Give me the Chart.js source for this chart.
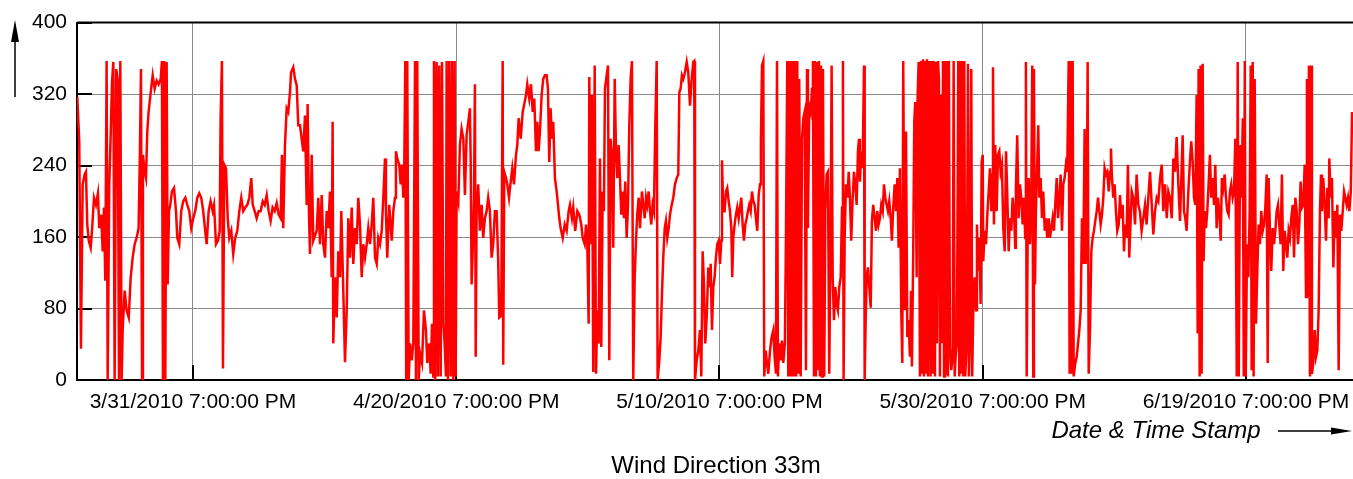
<!DOCTYPE html>
<html>
<head>
<meta charset="utf-8">
<title>Wind Direction 33m</title>
<script src="https://cdn.jsdelivr.net/npm/chart.js@4.4.1/dist/chart.umd.min.js"></script>
<style>
  html, body { margin: 0; padding: 0; background: #ffffff; }
  #wrap { width: 1353px; height: 479px; position: relative; }
</style>
</head>
<body>
<div id="wrap"><canvas id="windChart" width="1353" height="479"></canvas></div>
<script>
// ================= DATA =================
// time stamps in days since 3/31/2010 7:00 PM, wind direction in degrees
const days = [
  -8.79,-8.64,-8.51,-8.38,-8.23,-8.13,-8.03,-7.92,-7.77,-7.67,
  -7.52,-7.37,-7.22,-7.12,-6.97,-6.86,-6.76,-6.66,-6.56,-6.48,
  -6.36,-6.25,-6.15,-6.05,-5.95,-5.83,-5.72,-5.62,-5.52,-5.42,
  -5.34,-5.19,-5.04,-4.88,-4.73,-4.58,-4.43,-4.28,-4.13,-4.03,
  -3.95,-3.87,-3.80,-3.67,-3.57,-3.47,-3.37,-3.21,-3.06,-2.91,
  -2.76,-2.61,-2.45,-2.36,-2.28,-2.18,-2.10,-2.00,-1.92,-1.82,
  -1.72,-1.60,-1.44,-1.29,-1.19,-1.04,-0.89,-0.74,-0.58,-0.43,
  -0.28,-0.13,0.02,0.17,0.33,0.48,0.63,0.78,0.93,1.04,
  1.19,1.34,1.50,1.60,1.75,1.90,2.03,2.10,2.20,2.28,
  2.38,2.51,2.64,2.76,2.91,3.06,3.21,3.37,3.52,3.67,
  3.82,3.97,4.13,4.28,4.43,4.54,4.69,4.84,4.99,5.14,
  5.30,5.45,5.60,5.75,5.90,6.05,6.21,6.36,6.51,6.66,
  6.76,6.86,6.99,7.12,7.24,7.37,7.45,7.62,7.75,7.88,
  8.00,8.13,8.38,8.51,8.64,8.71,8.81,8.89,9.02,9.14,
  9.40,9.52,9.65,9.78,9.90,10.03,10.16,10.28,10.41,10.54,
  10.61,10.66,10.79,10.92,11.04,11.17,11.27,11.42,11.55,11.68,
  11.80,11.93,12.06,12.18,12.31,12.44,12.56,12.69,12.82,12.94,
  13.07,13.20,13.32,13.45,13.58,13.70,13.83,13.96,14.08,14.21,
  14.34,14.46,14.59,14.66,14.76,14.91,15.10,15.22,15.35,15.42,
  15.52,15.67,15.78,15.88,15.98,16.05,16.13,16.20,16.28,16.39,
  16.49,16.62,16.74,16.87,16.94,17.04,17.15,17.25,17.40,17.55,
  17.70,17.80,17.95,18.06,18.16,18.26,18.31,18.41,18.51,18.61,
  18.71,18.82,18.92,19.02,19.12,19.22,19.27,19.37,19.47,19.58,
  19.68,19.78,19.88,19.96,20.03,20.16,20.28,20.41,20.54,20.66,
  20.79,20.92,21.04,21.10,21.17,21.25,21.35,21.42,21.48,21.55,
  21.67,21.80,21.93,22.05,22.18,22.31,22.43,22.56,22.69,22.81,
  22.94,23.07,23.19,23.27,23.42,23.53,23.57,23.65,23.78,23.88,
  24.01,24.14,24.26,24.39,24.54,24.64,24.74,24.90,25.05,25.20,
  25.30,25.40,25.55,25.68,25.81,25.93,26.06,26.16,26.26,26.36,
  26.49,26.61,26.74,26.87,26.97,27.07,27.17,27.27,27.37,27.50,
  27.63,27.73,27.83,27.93,28.09,28.24,28.39,28.54,28.64,28.79,
  28.89,29.04,29.20,29.35,29.50,29.61,29.76,29.86,29.96,30.06,
  30.11,30.21,30.31,30.41,30.52,30.62,30.72,30.82,30.92,31.02,
  31.13,31.22,31.30,31.43,31.53,31.63,31.73,31.83,31.93,32.04,
  32.14,32.24,32.34,32.44,32.54,32.64,32.74,32.84,32.95,33.05,
  33.15,33.25,33.35,33.45,33.56,33.66,33.75,33.86,33.96,34.11,
  34.21,34.32,34.42,34.51,34.62,34.72,34.82,34.92,35.02,35.12,
  35.23,35.30,35.43,35.53,35.63,35.73,35.84,35.93,36.03,36.14,
  36.24,36.37,36.49,36.62,36.75,36.87,36.95,37.05,37.15,37.25,
  37.36,37.51,37.63,37.76,37.89,38.01,38.08,38.14,38.27,38.39,
  38.52,38.62,38.72,38.82,38.92,39.03,39.15,39.28,39.33,39.43,
  39.53,39.63,39.73,39.83,39.94,40.04,40.14,40.19,40.29,40.39,
  40.49,40.59,40.70,40.80,40.90,40.97,41.05,41.15,41.25,41.35,
  41.46,41.56,41.66,41.76,41.86,41.96,42.07,42.16,42.26,42.37,
  42.47,42.57,42.67,42.77,42.87,42.98,43.08,43.15,43.23,43.33,
  43.40,43.51,43.61,43.71,43.84,43.96,44.09,44.19,44.29,44.37,
  44.44,44.54,44.65,44.75,44.85,44.97,45.05,45.15,45.23,45.30,
  45.38,45.45,45.53,45.61,45.68,45.76,45.83,45.91,45.99,46.06,
  46.17,46.27,46.37,46.47,46.57,46.65,46.72,46.82,46.93,47.03,
  47.10,47.18,47.25,47.33,47.41,47.48,47.56,47.63,47.71,47.79,
  47.86,47.96,48.04,48.14,48.24,48.34,48.45,48.52,48.60,48.70,
  48.80,48.90,49.00,49.10,49.21,49.31,49.38,49.43,49.51,49.61,
  49.71,49.82,49.91,50.01,50.12,50.22,50.32,50.42,50.52,50.60,
  50.67,50.77,50.88,50.98,51.03,51.11,51.18,51.28,51.38,51.49,
  51.58,51.68,51.79,51.89,51.99,52.09,52.19,52.29,52.40,52.50,
  52.60,52.70,52.80,52.90,53.01,53.10,53.20,53.31,53.41,53.51,
  53.61,53.71,53.81,53.89,53.96,54.07,54.17,54.27,54.37,54.47,
  54.55,54.62,54.72,54.80,54.87,54.98,55.03,55.13,55.23,55.31,
  55.38,55.46,55.53,55.61,55.69,55.76,55.84,55.92,55.99,56.04,
  56.14,56.22,56.29,56.37,56.45,56.52,56.60,56.67,56.75,56.83,
  56.90,56.98,57.06,57.13,57.21,57.28,57.36,57.43,57.51,57.61,
  57.72,57.79,57.87,57.94,58.04,58.14,58.22,58.29,58.37,58.44,
  58.52,58.60,58.67,58.78,58.88,58.95,59.03,59.13,59.20,59.28,
  59.39,59.49,59.56,59.64,59.74,59.84,59.92,60.00,60.04,60.15,
  60.25,60.35,60.45,60.55,60.65,60.72,60.78,60.85,60.95,61.06,
  61.16,61.26,61.36,61.46,61.56,61.67,61.77,61.87,61.97,62.07,
  62.17,62.27,62.37,62.47,62.52,62.62,62.73,62.83,62.93,63.03,
  63.13,63.23,63.28,63.34,63.41,63.49,63.59,63.69,63.76,63.84,
  63.89,63.97,64.04,64.14,64.22,64.30,64.40,64.50,64.60,64.71,
  64.80,64.90,65.01,65.11,65.21,65.31,65.41,65.51,65.62,65.72,
  65.82,65.92,66.02,66.12,66.22,66.32,66.42,66.53,66.60,66.68,
  66.76,66.83,66.91,67.03,67.14,67.24,67.34,67.44,67.54,67.64,
  67.74,67.82,67.90,67.97,68.05,68.15,68.25,68.35,68.45,68.55,
  68.66,68.76,68.86,68.96,69.06,69.16,69.26,69.36,69.46,69.57,
  69.67,69.74,69.82,69.92,70.02,70.12,70.22,70.33,70.43,70.53,
  70.63,70.73,70.83,70.93,71.03,71.13,71.18,71.32,71.44,71.57,
  71.69,71.82,71.94,72.07,72.20,72.33,72.45,72.58,72.71,72.84,
  72.96,73.09,73.22,73.34,73.47,73.60,73.72,73.85,73.98,74.10,
  74.23,74.36,74.48,74.61,74.73,74.86,74.99,75.11,75.19,75.29,
  75.39,75.49,75.62,75.74,75.84,75.95,76.05,76.15,76.25,76.33,
  76.40,76.48,76.55,76.63,76.71,76.78,76.86,76.96,77.06,77.16,
  77.26,77.36,77.47,77.57,77.67,77.77,77.87,77.97,78.08,78.17,
  78.27,78.38,78.48,78.58,78.68,78.78,78.88,78.99,79.09,79.19,
  79.30,79.37,79.45,79.55,79.65,79.76,79.83,79.91,79.98,80.08,
  80.18,80.28,80.36,80.43,80.51,80.58,80.66,80.76,80.86,80.96,
  81.06,81.16,81.27,81.37,81.47,81.57,81.65,81.72,81.82,81.92,
  82.03,82.13,82.23,82.33,82.43,82.53,82.63,82.73,82.83,82.94,
  83.04,83.14,83.24,83.34,83.44,83.55,83.65,83.75,83.85,83.95,
  84.05,84.15,84.25,84.35,84.46,84.56,84.63,84.71,84.78,84.86,
  84.94,85.01,85.11,85.22,85.32,85.42,85.52,85.62,85.70,85.77,
  85.87,85.98,86.08,86.18,86.28,86.33,86.43,86.53,86.64,86.74,
  86.84,86.94,87.04,87.14,87.24,87.35,87.45,87.55,87.65,87.75,
  87.85,87.96,88.06
];

const windDir = [
  317,267,35,219,230,233,174,156,148,167,
  204,196,209,170,185,144,193,111,357,0,
  219,274,333,356,0,348,337,0,357,0,
  56,100,78,70,115,137,152,159,170,256,
  348,0,252,233,226,278,300,322,341,326,
  335,331,337,357,0,357,0,356,107,189,
  196,211,215,189,159,152,189,200,204,196,
  189,170,181,189,204,209,204,189,167,152,
  189,200,189,196,152,156,167,293,357,13,
  241,237,181,159,167,141,159,167,189,204,
  189,193,196,204,226,196,189,181,189,189,
  200,196,207,189,178,193,189,198,185,181,
  252,170,263,304,300,322,344,350,337,330,
  285,285,256,296,196,309,189,141,252,156,
  167,204,152,207,152,137,189,170,211,115,
  289,41,115,70,144,115,189,100,20,78,
  181,137,193,130,170,152,204,174,115,152,
  137,152,170,152,174,204,137,130,159,152,
  167,204,248,189,137,196,156,189,204,256,
  248,241,219,241,204,233,357,0,357,0,
  41,22,41,357,0,357,0,30,19,78,
  56,19,41,7,63,4,357,0,356,4,
  352,4,356,63,41,4,357,0,357,4,
  357,0,357,4,211,200,263,281,270,207,
  274,289,304,244,107,144,204,331,26,189,
  219,167,196,159,181,189,204,189,137,152,
  189,189,133,70,72,357,17,233,226,219,
  204,222,237,219,252,263,293,270,300,311,
  319,331,315,331,300,315,256,289,256,278,
  319,337,341,341,326,244,304,270,289,226,
  211,196,181,170,159,174,167,189,196,181,
  193,167,189,185,174,159,152,174,152,63,
  339,152,319,9,352,7,78,41,248,37,
  211,189,326,341,352,22,270,252,148,337,
  256,226,263,226,185,211,181,222,159,196,
  285,337,357,0,115,156,185,204,170,211,
  196,181,204,196,211,189,174,196,189,281,
  357,0,22,48,96,137,170,178,159,170,
  185,196,204,219,226,230,322,326,341,337,
  343,356,344,307,337,356,357,0,22,33,
  56,4,144,107,41,70,126,104,130,56,
  104,115,137,152,156,130,156,246,189,189,
  211,215,200,189,170,115,159,174,185,193,
  181,193,204,174,156,174,181,189,196,189,
  211,200,196,181,167,207,219,270,352,357,
  4,33,19,7,33,48,56,26,7,357,
  4,41,22,44,19,41,159,357,4,357,
  4,357,4,357,4,357,4,357,7,337,
  4,270,293,300,11,348,170,307,300,326,
  357,4,357,4,356,11,357,4,352,4,
  348,4,189,230,233,7,174,352,115,67,
  104,85,78,104,115,193,357,0,159,219,
  204,233,204,156,204,233,219,196,256,270,
  222,256,237,352,0,70,115,126,104,81,
  178,196,181,167,189,174,181,196,189,219,
  204,196,189,200,181,156,193,219,189,226,
  148,237,78,19,357,78,278,48,67,26,
  100,15,144,289,311,115,304,356,4,357,
  7,359,4,357,7,359,4,357,322,4,
  357,7,357,4,356,41,357,337,4,319,
  41,357,4,357,7,357,4,357,37,11,
  26,357,4,26,41,357,4,357,7,357,
  4,357,4,41,354,4,48,348,4,78,
  115,78,174,122,159,85,244,252,133,167,
  152,185,211,237,189,230,350,174,263,189,
  252,256,233,241,170,144,256,204,144,181,
  167,204,189,148,215,274,181,219,204,174,
  204,159,356,4,152,226,152,211,352,4,
  348,107,189,241,285,204,226,181,211,167,
  181,159,181,159,170,181,167,196,226,181,
  204,230,167,219,226,241,233,357,7,357,
  7,357,4,19,26,41,56,78,181,130,
  281,130,170,356,7,56,144,159,167,178,
  189,204,189,174,185,204,237,230,233,211,
  233,259,226,204,219,189,167,174,207,181,
  196,144,174,159,241,137,137,211,204,174,
  230,196,189,167,181,196,174,204,233,196,
  163,189,204,200,226,241,189,219,181,211,
  204,181,248,233,272,219,178,237,274,189,
  181,167,211,244,267,244,204,196,319,52,
  348,4,352,7,354,133,189,170,189,219,
  252,204,226,196,241,170,204,189,156,226,
  215,230,204,189,185,211,219,204,211,270,
  4,356,4,263,204,293,4,357,4,152,
  115,189,352,11,356,4,337,63,122,174,
  152,189,167,174,193,230,19,226,167,122,
  170,152,167,189,196,174,152,230,122,167,
  152,137,167,159,181,196,137,204,189,152,
  174,222,193,196,241,93,337,93,352,4,
  352,7,19,56,26,33,78,189,230,189,
  226,196,156,215,181,248,204,226,126,189,
  159,196,11,185,167,189,211,204,196,204,
  189,210,300
];

const yTicks = [0, 80, 160, 240, 320, 400];
const xTickDays = [0, 20, 40, 60, 80];
const xTickLabels = [
  "3/31/2010 7:00:00 PM",
  "4/20/2010 7:00:00 PM",
  "5/10/2010 7:00:00 PM",
  "5/30/2010 7:00:00 PM",
  "6/19/2010 7:00:00 PM"
];
const xRange = [-8.81, 88.13];
const chartTitle = "Wind Direction 33m";
const xCaption = "Date & Time Stamp";

const FONT = '"Liberation Sans", Arial, sans-serif';

// ================= DECORATION PLUGIN =================
const decor = {
  id: "decor",
  beforeDatasetsDraw(chart) {
    const { ctx, chartArea: a, scales } = chart;
    ctx.save();
    ctx.strokeStyle = "#000000";
    ctx.lineWidth = 2;
    // inward tick marks
    yTicks.forEach(v => {
      const y = Math.round(scales.y.getPixelForValue(v));
      ctx.beginPath();
      ctx.moveTo(a.left, y);
      ctx.lineTo(a.left + 15, y);
      ctx.stroke();
    });
    xTickDays.forEach(v => {
      const x = Math.round(scales.x.getPixelForValue(v));
      ctx.beginPath();
      ctx.moveTo(x, a.bottom);
      ctx.lineTo(x, a.bottom - 15);
      ctx.stroke();
    });
    ctx.restore();
  },
  afterDraw(chart) {
    const { ctx, chartArea: a } = chart;
    ctx.save();
    // top border
    ctx.strokeStyle = "#000000";
    ctx.lineWidth = 2;
    ctx.beginPath();
    ctx.moveTo(a.left, a.top);
    ctx.lineTo(a.right, a.top);
    ctx.stroke();

    // vertical arrow (y axis)
    ctx.lineWidth = 1.5;
    ctx.beginPath();
    ctx.moveTo(15, 97);
    ctx.lineTo(15, 38);
    ctx.stroke();
    ctx.fillStyle = "#000000";
    ctx.beginPath();
    ctx.moveTo(15, 20);
    ctx.lineTo(11, 42);
    ctx.lineTo(19, 42);
    ctx.closePath();
    ctx.fill();

    // x axis caption and arrow
    ctx.font = "italic 24px " + FONT;
    ctx.textAlign = "center";
    ctx.textBaseline = "middle";
    ctx.fillText(xCaption, 1156, 431);
    ctx.beginPath();
    ctx.moveTo(1278, 431);
    ctx.lineTo(1335, 431);
    ctx.stroke();
    ctx.beginPath();
    ctx.moveTo(1352, 431);
    ctx.lineTo(1331, 427.5);
    ctx.lineTo(1331, 434.5);
    ctx.closePath();
    ctx.fill();

    // chart title
    ctx.font = "24px " + FONT;
    ctx.fillText(chartTitle, (a.left + a.right) / 2 + 1, 466);
    ctx.restore();
  }
};

// ================= CHART =================
window.onload = () => {
  const n = Math.min(days.length, windDir.length);
  const points = [];
  for (let i = 0; i < n; i++) points.push({ x: days[i], y: windDir[i] });

  new Chart(document.getElementById("windChart").getContext("2d"), {
    type: "line",
    data: {
      datasets: [{
        label: "Wind Direction 33m",
        data: points,
        borderColor: "#ff0000",
        borderWidth: 2.5,
        pointRadius: 0,
        tension: 0,
        fill: false
      }]
    },
    options: {
      responsive: false,
      animation: false,
      devicePixelRatio: 1,
      layout: { padding: { top: 20, left: 0, right: 0, bottom: 0 } },
      plugins: {
        legend: { display: false },
        tooltip: { enabled: false },
        title: { display: false }
      },
      scales: {
        x: {
          type: "linear",
          min: xRange[0],
          max: xRange[1],
          afterBuildTicks: s => { s.ticks = xTickDays.map(v => ({ value: v })); },
          afterFit: s => { s.height = 99; s.paddingLeft = 0; s.paddingRight = 0; },
          ticks: {
            autoSkip: false,
            maxRotation: 0,
            padding: 10,
            color: "#000000",
            font: { family: FONT, size: 21 },
            callback: (v, i) => xTickLabels[i]
          },
          grid: { color: "#8a8a8a", lineWidth: 1, drawTicks: false },
          border: { display: true, color: "#000000", width: 2 }
        },
        y: {
          min: 0,
          max: 400,
          afterBuildTicks: s => { s.ticks = yTicks.map(v => ({ value: v })); },
          afterFit: s => { s.width = 77; },
          ticks: {
            padding: 10,
            color: "#000000",
            font: { family: FONT, size: 21 }
          },
          grid: { color: "#8a8a8a", lineWidth: 1, drawTicks: false },
          border: { display: true, color: "#000000", width: 2 }
        }
      }
    },
    plugins: [decor]
  });
};
</script>
</body>
</html>
